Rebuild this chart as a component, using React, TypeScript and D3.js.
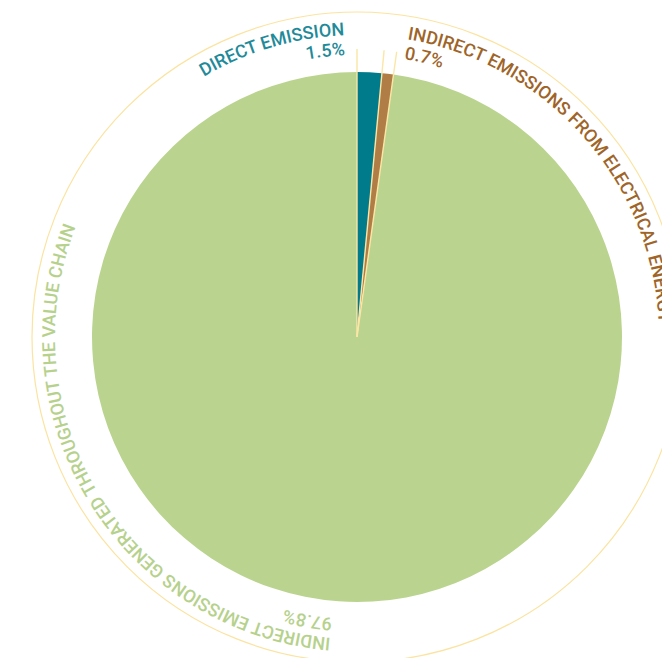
import React from "react";
import * as d3 from "d3";

const categories = [
  "DIRECT EMISSION",
  "INDIRECT EMISSIONS FROM ELECTRICAL ENERGY",
  "INDIRECT EMISSIONS GENERATED THROUGHOUT THE VALUE CHAIN",
];
const values = [1.5, 0.7, 97.8];
const valueLabels = ["1.5%", "0.7%", "97.8%"];
const sliceColors = ["#007b8c", "#b07d46", "#bad48f"];
const textColors = ["#1f8a99", "#9e6428", "#b6d18c"];

const W = 662;
const H = 658;
const cx = 357;
const cy = 337;
const R = 265;
const ringR = 325;
const lineR = 288;
const r1 = 302;
const r2 = 282;

const pt = (a: number, r: number) => [cx + r * Math.sin(a), cy - r * Math.cos(a)];
const arcPath = (a0: number, a1: number, r: number) => {
  const [x0, y0] = pt(a0, r);
  const [x1, y1] = pt(a1, r);
  const large = a1 - a0 > Math.PI ? 1 : 0;
  return `M${x0},${y0} A${r},${r} 0 ${large} 1 ${x1},${y1}`;
};
const deg = (d: number) => (d * Math.PI) / 180;

export default function App() {
  const pie = d3.pie<number>().sort(null).value((d) => d)(values);
  const arc = d3.arc<d3.PieArcDatum<number>>().innerRadius(0).outerRadius(R);
  const boundaries = [0, pie[0].endAngle, pie[1].endAngle];

  const labelSpecs = [
    { a0: deg(-100), a1: deg(-2.4), anchor: "end", offset: "100%" },
    { a0: deg(9.6), a1: deg(130), anchor: "start", offset: "0%" },
    { a0: deg(185), a1: deg(355), anchor: "start", offset: "0%" },
  ];

  return (
    <svg
      width={W}
      height={H}
      style={{ position: "absolute", left: 0, top: 0, background: "#fff" }}
      fontFamily="Roboto, sans-serif"
    >
      <circle cx={cx} cy={cy} r={ringR} fill="none" stroke="#fbe3a0" strokeWidth={1.2} />
      <g transform={`translate(${cx},${cy})`}>
        {pie.map((d, i) => (
          <path key={i} d={arc(d) as string} fill={sliceColors[i]} />
        ))}
      </g>
      {boundaries.map((a, i) => {
        const [x, y] = pt(a, lineR);
        return (
          <line key={i} x1={cx} y1={cy} x2={x} y2={y} stroke="#fbe6a6" strokeWidth={1.4} />
        );
      })}
      <defs>
        {labelSpecs.map((s, i) => (
          <g key={i}>
            <path id={`l1-${i}`} d={arcPath(s.a0, s.a1, r1)} />
            <path id={`l2-${i}`} d={arcPath(s.a0, s.a1, r2)} />
          </g>
        ))}
      </defs>
      {labelSpecs.map((s, i) => (
        <g key={i} fill={textColors[i]} fontSize={18} fontWeight={500}>
          <text textAnchor={s.anchor}>
            <textPath href={`#l1-${i}`} startOffset={s.offset}>
              {categories[i]}
            </textPath>
          </text>
          <text textAnchor={s.anchor}>
            <textPath href={`#l2-${i}`} startOffset={s.offset}>
              {valueLabels[i]}
            </textPath>
          </text>
        </g>
      ))}
    </svg>
  );
}
